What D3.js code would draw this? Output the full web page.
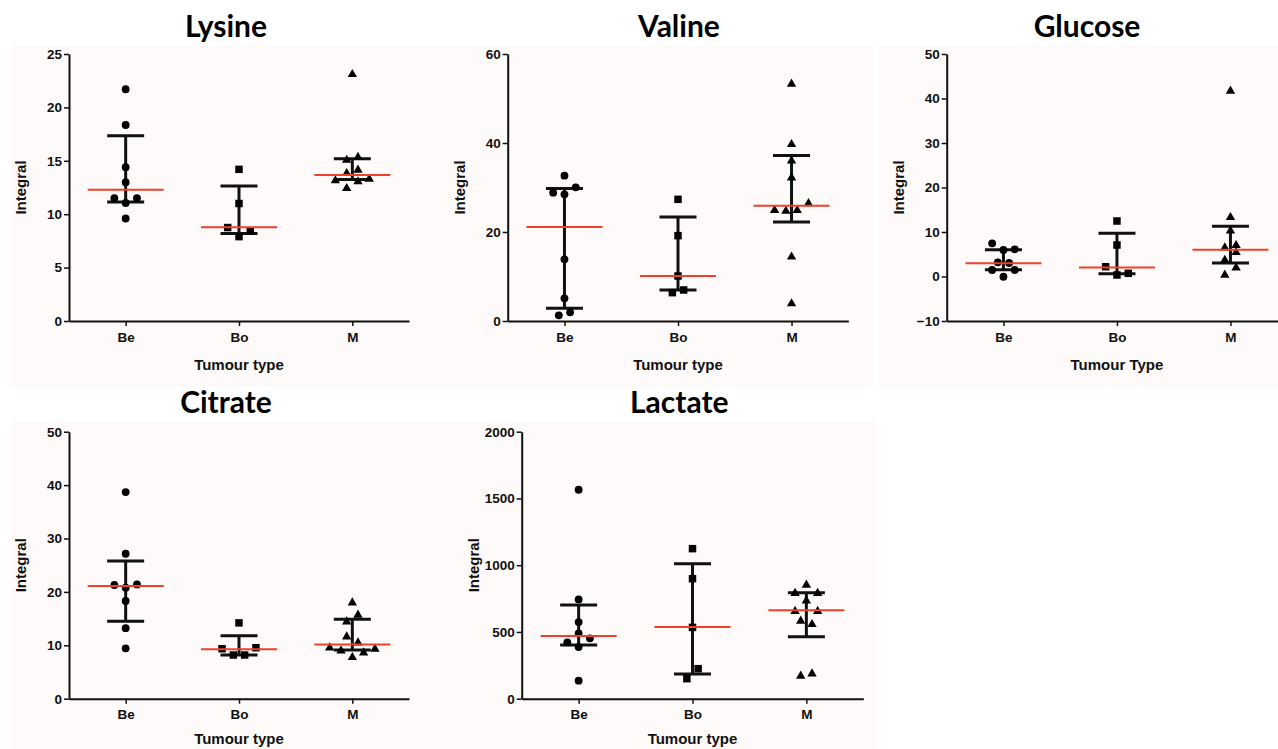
<!DOCTYPE html>
<html>
<head>
<meta charset="utf-8">
<script src="https://cdn.jsdelivr.net/npm/d3@7"></script>
<style>
  body { margin: 0; background: #fff; }
  svg { display: block; }
  .tick text { font-family: "Liberation Sans", Arial, sans-serif; font-weight: bold; font-size: 13.5px; fill: #111; }
</style>
</head>
<body>
<script>
const groups = ["Be", "Bo", "M"];

// Lysine
const lysineBe = [21.7, 18.35, 14.4, 13.0, 11.5, 11.05, 11.5, 9.6];
const lysineBo = [14.2, 11.0, 8.75, 7.9, 8.45];
const lysineM = [23.1, 15.07, 15.33, 13.83, 14.14, 13.14, 12.42, 13.05, 13.3];
const lysineMedian = [12.3, 8.77, 13.67];
const lysineLow = [11.15, 8.2, 13.25];
const lysineHigh = [17.35, 12.64, 15.2];
const lysineTicks = [0, 5, 10, 15, 20, 25];

// Valine
const valineBe = [32.66, 28.84, 28.47, 30.04, 13.86, 5.09, 1.27, 1.95];
const valineBo = [27.34, 19.18, 10.11, 6.37, 6.97];
const valineM = [53.26, 39.7, 36.0, 32.2, 24.9, 24.7, 24.85, 26.4, 14.4, 3.9];
const valineMedian = [21.1, 10.11, 25.9];
const valineLow = [2.85, 6.97, 22.25];
const valineHigh = [29.8, 23.37, 37.2];
const valineTicks = [0, 20, 40, 60];

// Glucose
const glucoseBe = [7.46, 5.95, 6.11, 3.19, 3.03, 1.46, -0.05, 1.46];
const glucoseBo = [12.47, 7.08, 2.2, 0.34, 0.72];
const glucoseM = [41.7, 13.3, 10.29, 6.47, 7.0, 3.7, 5.43, 0.34, 1.98];
const glucoseMedian = [3.0, 2.0, 6.0];
const glucoseLow = [1.5, 0.6, 3.05];
const glucoseHigh = [6.02, 9.7, 11.3];
const glucoseTicks = [-10, 0, 10, 20, 30, 40, 50];

// Citrate
const citrateBe = [38.7, 27.15, 21.29, 20.8, 21.4, 18.3, 13.2, 9.43];
const citrateBo = [14.2, 9.36, 8.18, 8.18, 9.55];
const citrateM = [17.98, 14.42, 15.67, 11.61, 10.49, 9.55, 8.99, 7.75, 8.61, 9.31];
const citrateMedian = [21.1, 9.24, 10.17];
const citrateLow = [14.5, 8.18, 9.12];
const citrateHigh = [25.8, 11.8, 14.9];
const citrateTicks = [0, 10, 20, 30, 40, 50];

// Lactate
const lactateBe = [1565, 744, 574, 489, 422, 387, 452, 135];
const lactateBo = [1124, 899, 534, 150, 225];
const lactateM = [790, 852, 790, 655, 734, 655, 582, 557, 170, 187];
const lactateMedian = [470, 537, 662];
const lactateLow = [402, 185, 464];
const lactateHigh = [702, 1011, 794];
const lactateTicks = [0, 500, 1000, 1500, 2000];

const W = 1278, H = 749;
const red = "#EF4129";
const bg = "#FDFAF9";
const step = 11.3;   // horizontal spacing of crowded points

const svg = d3.select("body").append("svg")
    .attr("width", W)
    .attr("height", H);

// panel backgrounds
svg.append("rect").attr("x", 11).attr("y", 46).attr("width", 863).attr("height", 341).attr("fill", bg);
svg.append("rect").attr("x", 878).attr("y", 46).attr("width", 400).attr("height", 341).attr("fill", bg);
svg.append("rect").attr("x", 11).attr("y", 422).attr("width", 866).attr("height", 327).attr("fill", bg);

const panels = [
  {title: "Lysine", values: [lysineBe, lysineBo, lysineM], median: lysineMedian, low: lysineLow, high: lysineHigh,
   ticks: lysineTicks, xTitle: "Tumour type", left: 69, right: 409, top: 54, bottom: 321, titleX: 226, titleY: 36.5},
  {title: "Valine", values: [valineBe, valineBo, valineM], median: valineMedian, low: valineLow, high: valineHigh,
   ticks: valineTicks, xTitle: "Tumour type", left: 507.7, right: 848.3, top: 54, bottom: 321, titleX: 679, titleY: 36.5},
  {title: "Glucose", values: [glucoseBe, glucoseBo, glucoseM], median: glucoseMedian, low: glucoseLow, high: glucoseHigh,
   ticks: glucoseTicks, xTitle: "Tumour Type", left: 946.7, right: 1287.2, top: 54, bottom: 321, titleX: 1087, titleY: 36.5},
  {title: "Citrate", values: [citrateBe, citrateBo, citrateM], median: citrateMedian, low: citrateLow, high: citrateHigh,
   ticks: citrateTicks, xTitle: "Tumour type", left: 69, right: 409, top: 431.7, bottom: 698.7, titleX: 226, titleY: 413.3},
  {title: "Lactate", values: [lactateBe, lactateBo, lactateM], median: lactateMedian, low: lactateLow, high: lactateHigh,
   ticks: lactateTicks, xTitle: "Tumour type", left: 521.7, right: 863.3, top: 431.7, bottom: 698.7, titleX: 679.3, titleY: 413.3}
];

const shapes = [d3.symbolCircle, d3.symbolSquare, d3.symbolTriangle];
const sizes = [48, 56, 38];

// group points into rows by value, spread each row symmetric around the centre
function spread(vals, pxPerUnit) {
  const order = vals.map((v, i) => i).sort((a, b) => vals[a] - vals[b]);
  const offs = new Array(vals.length);
  let row = [];
  const flush = () => {
    row.sort((a, b) => a - b);
    row.forEach((i, k) => offs[i] = k - (row.length - 1) / 2);
    row = [];
  };
  order.forEach(i => {
    if (row.length && (vals[i] - vals[row[0]]) * pxPerUnit > 11) flush();
    row.push(i);
  });
  flush();
  return offs;
}

panels.forEach(p => {
  const g = svg.append("g");
  const y = d3.scaleLinear()
      .domain([p.ticks[0], p.ticks[p.ticks.length - 1]])
      .range([p.bottom, p.top]);
  const x = d3.scalePoint()
      .domain(groups)
      .range([p.left, p.right])
      .padding(0.5);
  const pxPerUnit = (p.bottom - p.top) / (y.domain()[1] - y.domain()[0]);

  const yAxis = g.append("g")
      .attr("transform", `translate(${p.left},0)`)
      .call(d3.axisLeft(y).tickValues(p.ticks).tickFormat(d3.format("d"))
        .tickSize(5).tickSizeOuter(0).tickPadding(2));
  const xAxis = g.append("g")
      .attr("transform", `translate(0,${p.bottom})`)
      .call(d3.axisBottom(x).tickSize(5).tickSizeOuter(0).tickPadding(6));
  [yAxis, xAxis].forEach(a => {
    a.select(".domain").attr("stroke", "#111").attr("stroke-width", 2);
    a.selectAll(".tick line").attr("stroke", "#111").attr("stroke-width", 1.5);
  });

  g.append("text")
      .attr("x", p.titleX).attr("y", p.titleY)
      .attr("text-anchor", "middle")
      .style("font-family", "Lato, sans-serif")
      .style("font-weight", "bold")
      .style("font-size", "30px")
      .attr("fill", "#000")
      .text(p.title);

  g.append("text")
      .attr("transform", `translate(${p.left - 48},${(p.top + p.bottom) / 2}) rotate(-90)`)
      .attr("text-anchor", "middle")
      .attr("dy", "0.36em")
      .style("font-family", "'Liberation Sans', Arial, sans-serif")
      .style("font-weight", "bold")
      .style("font-size", "15px")
      .attr("fill", "#111")
      .text("Integral");

  g.append("text")
      .attr("x", (p.left + p.right) / 2).attr("y", Math.min(p.bottom + 49, H - 5))
      .attr("text-anchor", "middle")
      .style("font-family", "'Liberation Sans', Arial, sans-serif")
      .style("font-weight", "bold")
      .style("font-size", "15px")
      .attr("fill", "#111")
      .text(p.xTitle);

  groups.forEach((grp, gi) => {
    const cx = x(grp);
    // error bar
    g.append("line")
        .attr("x1", cx).attr("x2", cx)
        .attr("y1", y(p.low[gi])).attr("y2", y(p.high[gi]))
        .attr("stroke", "#111").attr("stroke-width", 3);
    [p.low[gi], p.high[gi]].forEach(v => {
      g.append("line")
          .attr("x1", cx - 18.5).attr("x2", cx + 18.5)
          .attr("y1", y(v)).attr("y2", y(v))
          .attr("stroke", "#111").attr("stroke-width", 3);
    });

    const vals = p.values[gi];
    const offs = spread(vals, pxPerUnit);
    g.selectAll(null)
      .data(vals)
      .join("path")
        .attr("transform", (d, i) => `translate(${cx + offs[i] * step},${y(d)})`)
        .attr("d", d3.symbol().type(shapes[gi]).size(sizes[gi]))
        .attr("fill", "#000");

    // median
    g.append("line")
        .attr("x1", cx - 38).attr("x2", cx + 38)
        .attr("y1", y(p.median[gi])).attr("y2", y(p.median[gi]))
        .attr("stroke", red).attr("stroke-width", 2);
  });
});
</script>
</body>
</html>
